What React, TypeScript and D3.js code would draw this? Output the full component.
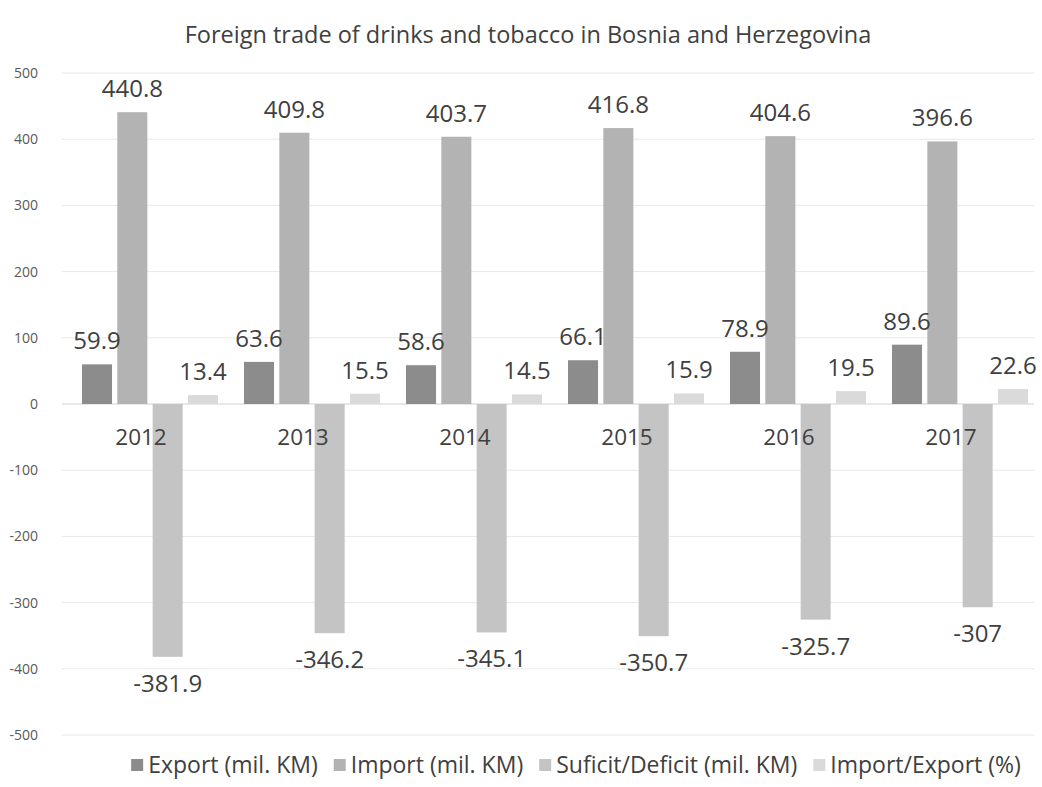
import React, { useEffect, useRef } from "react";
import * as d3 from "d3";

const years = ["2012", "2013", "2014", "2015", "2016", "2017"];
const exportValues = [59.9, 63.6, 58.6, 66.1, 78.9, 89.6];
const importValues = [440.8, 409.8, 403.7, 416.8, 404.6, 396.6];
const balanceValues = [-381.9, -346.2, -345.1, -350.7, -325.7, -307];
const ratioValues = [13.4, 15.5, 14.5, 15.9, 19.5, 22.6];
const seriesNames = [
  "Export (mil. KM)",
  "Import (mil. KM)",
  "Suficit/Deficit (mil. KM)",
  "Import/Export (%)",
];
const yTicks = [500, 400, 300, 200, 100, 0, -100, -200, -300, -400, -500];

const FONT = "'Open Sans', sans-serif";

const App = () => {
  const ref = useRef<SVGSVGElement>(null);

  useEffect(() => {
    const svg = d3.select(ref.current);
    svg.selectAll("*").remove();

    const width = 1042;
    const height = 787;
    const plot = { left: 62, right: 1034, top: 73, bottom: 735 };

    const seriesValues = [exportValues, importValues, balanceValues, ratioValues];
    const colors = ["#8c8c8c", "#b3b3b3", "#c4c4c4", "#dadada"];

    const x = d3.scaleBand().domain(years).range([plot.left, plot.right]);
    const xInner = d3
      .scaleBand()
      .domain(d3.range(4).map(String))
      .range([20, 156])
      .paddingInner(0.15);
    const y = d3.scaleLinear().domain([-500, 500]).range([plot.bottom, plot.top]);

    svg.attr("width", width).attr("height", height);
    svg.append("rect").attr("width", width).attr("height", height).attr("fill", "#fff");

    // title
    svg
      .append("text")
      .attr("x", 528)
      .attr("y", 43)
      .attr("text-anchor", "middle")
      .attr("font-family", FONT)
      .attr("font-size", 23.5)
      .attr("fill", "#404040")
      .text("Foreign trade of drinks and tobacco in Bosnia and Herzegovina");

    // grid
    svg
      .append("g")
      .selectAll("line")
      .data(yTicks)
      .join("line")
      .attr("x1", plot.left)
      .attr("x2", plot.right)
      .attr("y1", (d) => y(d))
      .attr("y2", (d) => y(d))
      .attr("stroke", (d) => (d === 0 ? "#d0d0d0" : "#e8e8e8"))
      .attr("stroke-width", 1);

    // y axis labels
    svg
      .append("g")
      .selectAll("text")
      .data(yTicks)
      .join("text")
      .attr("x", 38)
      .attr("y", (d) => y(d))
      .attr("dy", "0.35em")
      .attr("text-anchor", "end")
      .attr("font-family", FONT)
      .attr("font-size", 14)
      .attr("fill", "#595959")
      .text((d) => String(d));

    // bars
    const groups = svg
      .append("g")
      .selectAll("g")
      .data(years)
      .join("g")
      .attr("transform", (d) => `translate(${x(d)},0)`);

    seriesValues.forEach((vals, si) => {
      groups
        .append("rect")
        .attr("x", xInner(String(si))!)
        .attr("width", xInner.bandwidth())
        .attr("y", (_, i) => y(Math.max(0, vals[i])))
        .attr("height", (_, i) => Math.abs(y(vals[i]) - y(0)))
        .attr("fill", colors[si]);
    });

    // category labels
    groups
      .append("text")
      .attr("x", x.bandwidth() / 2 - 2)
      .attr("y", y(0) + 41)
      .attr("text-anchor", "middle")
      .attr("font-family", FONT)
      .attr("font-size", 22.5)
      .attr("fill", "#404040")
      .text((d) => d);

    // data labels
    seriesValues.forEach((vals, si) => {
      groups
        .append("text")
        .attr("x", xInner(String(si))! + xInner.bandwidth() / 2)
        .attr("y", (_, i) => (vals[i] >= 0 ? y(vals[i]) - 15 : y(vals[i]) + 35))
        .attr("text-anchor", "middle")
        .attr("font-family", FONT)
        .attr("font-size", 24)
        .attr("fill", "#404040")
        .text((_, i) => String(vals[i]));
    });

    // legend, laid out from measured text widths
    const legend = svg.append("g").attr("transform", "translate(0,765)");
    const items = legend
      .selectAll("g")
      .data(seriesNames)
      .join("g");
    items
      .append("rect")
      .attr("x", 0)
      .attr("y", -6)
      .attr("width", 12)
      .attr("height", 12)
      .attr("fill", (_, i) => colors[i]);
    const labels = items
      .append("text")
      .attr("x", 17)
      .attr("y", 0)
      .attr("dy", "0.35em")
      .attr("font-family", FONT)
      .attr("font-size", 23)
      .attr("fill", "#404040")
      .text((d) => d);
    const widths: number[] = [];
    labels.each(function () {
      widths.push((this as SVGTextElement).getComputedTextLength() + 17);
    });
    const gap = 16;
    const total = d3.sum(widths) + gap * (widths.length - 1);
    let cx = 576 - total / 2;
    const offsets = widths.map((w) => {
      const o = cx;
      cx += w + gap;
      return o;
    });
    items.attr("transform", (_, i) => `translate(${offsets[i]},0)`);
  }, []);

  return (
    <div>
      <svg ref={ref} style={{ position: "absolute", left: 0, top: 0 }}></svg>
    </div>
  );
};

export default App;
